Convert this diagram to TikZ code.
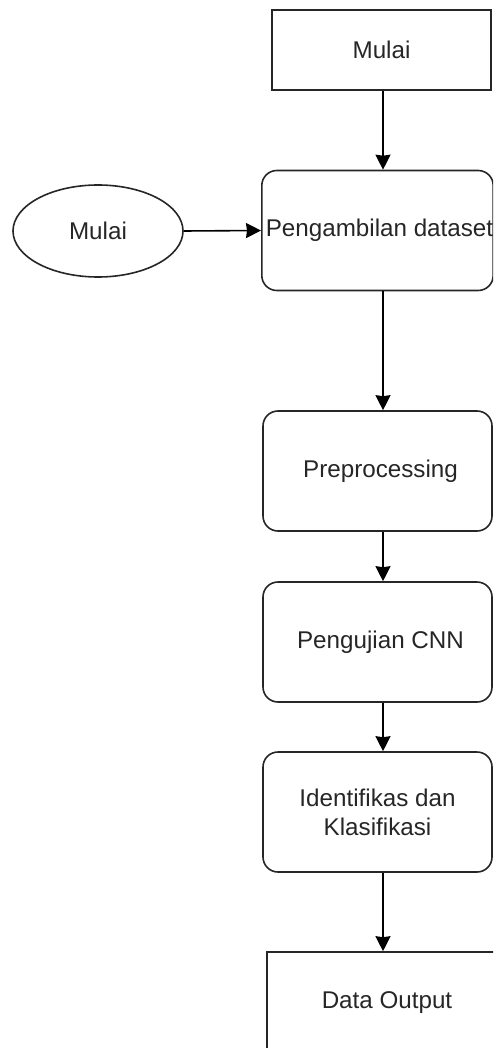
\documentclass[tikz,border=0pt]{standalone}
\usepackage{fontspec}
\setmainfont{Liberation Sans}
\usetikzlibrary{shapes.geometric,arrows.meta,calc}

\begin{document}
\begin{tikzpicture}[x=1pt,y=-1pt,
  label font/.style={font=\fontsize{24.2}{29}\selectfont, text=black!85},
  stepbox/.style={draw=black!85, line width=1.6pt, rounded corners=15pt,
    minimum width=229pt, minimum height=120pt, inner sep=0pt, align=center, label font},
  plainbox/.style={draw=black!85, line width=1.6pt, inner sep=0pt, align=center, label font},
  oval/.style={ellipse, draw=black!85, line width=1.6pt, minimum width=170pt,
    minimum height=92pt, inner sep=0pt, label font},
  flow/.style={draw=black, line width=1.6pt, -{Stealth[length=15pt,width=15pt,inset=1pt]}}]
\useasboundingbox (0,0) rectangle (493,1048);
\clip (0,0) rectangle (493,1048);

% vertical line shared by all downward connectors
\coordinate (spine) at (383,0);

% start block and side input
\node[plainbox, minimum width=219pt, minimum height=80pt] (start) at (381.5,50) {Mulai};
\node[oval] (input) at (98,231) {Mulai};

% processing steps
\node[stepbox] (take) at (377.5,230.5) {\hspace*{4pt}Pengambilan dataset};
\node[stepbox] (prep) at (377.5,471) {\hspace*{6pt}Preprocessing};
\node[stepbox] (test) at (377.5,642) {\hspace*{6pt}Pengujian CNN};
\node[stepbox] (ident) at (377.5,812) {Identifikas dan\\Klasifikasi};

% output block (runs past the lower right edge)
\node[plainbox, minimum width=240pt, minimum height=102pt] (out) at (387,1003) {Data Output};

% connectors
\draw[flow] (start.south -| spine) -- (take.north -| spine);
\draw[flow] (input.east) -- (take.west);
\draw[flow] (take.south -| spine) -- (prep.north -| spine);
\draw[flow] (prep.south -| spine) -- (test.north -| spine);
\draw[flow] (test.south -| spine) -- (ident.north -| spine);
\draw[flow] (ident.south -| spine) -- (out.north -| spine);
\end{tikzpicture}
\end{document}
